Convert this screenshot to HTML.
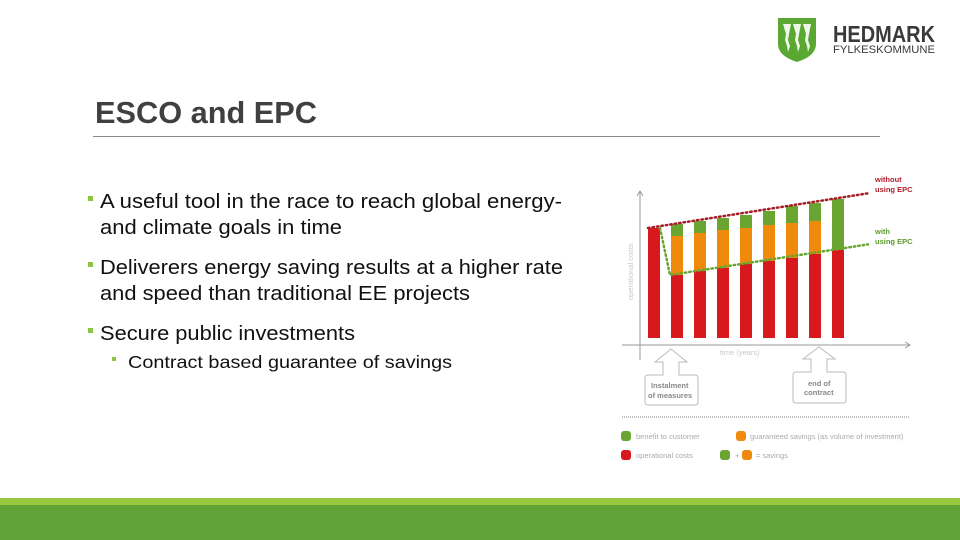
<!DOCTYPE html>
<html><head><meta charset="utf-8"><style>
html,body{margin:0;padding:0;background:#fff;}
svg{display:block;}
</style></head><body>
<svg width="960" height="540" viewBox="0 0 960 540" xmlns="http://www.w3.org/2000/svg" font-family="Liberation Sans, sans-serif">
<g>
  <path d="M778 18 H816 V44 Q816 56 797 62 Q778 56 778 44 Z" fill="#5aa832"/>
  <path d="M783 24 h8 l-2 10 l-1 6 l2 6 l-2 6 l-1 -6 l-2 -6 l1 -6 Z M793 24 h8 l-2 10 l-1 6 l2 6 l-2 6 l-1 -6 l-2 -6 l1 -6 Z M803 24 h8 l-2 10 l-1 6 l2 6 l-2 6 l-1 -6 l-2 -6 l1 -6 Z" fill="#fff" opacity="0.9"/>
  <text x="833" y="42" font-size="23" font-weight="bold" fill="#3a3a3a" textLength="102" lengthAdjust="spacingAndGlyphs">HEDMARK</text>
  <text x="833" y="53" font-size="11" fill="#3a3a3a" textLength="102" lengthAdjust="spacingAndGlyphs">FYLKESKOMMUNE</text>
</g>
<text x="95" y="123" font-size="31" font-weight="bold" fill="#404040" textLength="222" lengthAdjust="spacingAndGlyphs">ESCO and EPC</text>
<line x1="93" y1="136.5" x2="880" y2="136.5" stroke="#8a8a8a" stroke-width="1"/>
<g font-size="20" fill="#111">
  <rect x="88" y="196" width="5" height="5" fill="#8cc63f"/>
  <text x="100" y="208" textLength="462" lengthAdjust="spacingAndGlyphs">A useful tool in the race to reach global energy-</text>
  <text x="100" y="234" textLength="242" lengthAdjust="spacingAndGlyphs">and climate goals in time</text>
  <rect x="88" y="262" width="5" height="5" fill="#8cc63f"/>
  <text x="100" y="274" textLength="463" lengthAdjust="spacingAndGlyphs">Deliverers energy saving results at a higher rate</text>
  <text x="100" y="300" textLength="370" lengthAdjust="spacingAndGlyphs">and speed than traditional EE projects</text>
  <rect x="88" y="328" width="5" height="5" fill="#8cc63f"/>
  <text x="100" y="340" textLength="255" lengthAdjust="spacingAndGlyphs">Secure public investments</text>
  <rect x="112" y="357" width="4" height="4" fill="#8cc63f"/>
  <text x="128" y="368" font-size="17.5" textLength="324" lengthAdjust="spacingAndGlyphs">Contract based guarantee of savings</text>
</g>
<g id="chart"></g>
<rect x="0" y="498" width="960" height="7" fill="#99c83f"/>
<rect x="0" y="505" width="960" height="35" fill="#62a337"/>
</svg>
<script>
const categories = ["y0","y1","y2","y3","y4","y5","y6","y7","y8"];
const operationalCosts = [110,63,67,70,74,77,80,84,88];
const guaranteedSavings = [0,39,38,38,36,36,35,33,0];
const customerBenefit = [0,12,12,12,13,14,17,18,51];

const NS = "http://www.w3.org/2000/svg";
const g = document.getElementById('chart');
const baseY = 338, bx0 = 648, step = 23, bw = 12;
const xPos = i => bx0 + i * step;
const yPos = v => baseY - v;
function mk(tag, attrs, parent) {
  const e = document.createElementNS(NS, tag);
  for (const k in attrs) e.setAttribute(k, attrs[k]);
  (parent || g).appendChild(e);
  return e;
}
// axes
let ax = mk('path', {d: 'M640 192 V360 M622 345 H910 M637 196 L640 191 L643 196 M905 342 L910 345 L905 348', stroke: '#999', 'stroke-width': 1, fill: 'none'});


let yl = mk('text', {x: 0, y: 0, transform: 'translate(633,300) rotate(-90)', 'font-size': 7.5, fill: '#c8c8c8'});
yl.textContent = 'operational costs';


let xl = mk('text', {x: 720, y: 355, 'font-size': 7.5, fill: '#c8c8c8'});
xl.textContent = 'time (years)';



categories.forEach((c, i) => {
  const x = xPos(i);
  const r = operationalCosts[i], o = guaranteedSavings[i], gr = customerBenefit[i];
  let b1 = mk('rect', {x: x, y: yPos(r), width: bw, height: r, fill: '#d7191e'});
  
  
  if (o > 0) {
    let b2 = mk('rect', {x: x, y: yPos(r + o), width: bw, height: o, fill: '#ef8a0c'});
    
    
  }
  if (gr > 0) {
    let b3 = mk('rect', {x: x, y: yPos(r + o + gr), width: bw, height: gr, fill: '#6aa531'});
    
    
  }
});
// trend lines from data
const n = categories.length;
const tot = i => operationalCosts[i] + guaranteedSavings[i] + customerBenefit[i];
const slopeTop = (tot(n - 1) - tot(0)) / (n - 1);
let l1 = mk('line', {x1: xPos(0), y1: yPos(tot(0)), x2: 868, y2: yPos(tot(0) + slopeTop * ((868 - xPos(0)) / step)), stroke: '#a51d26', 'stroke-width': 2.5, 'stroke-dasharray': '1.5 3', 'stroke-linecap': 'round'});


const slopeLow = (operationalCosts[n - 1] - operationalCosts[1]) / (n - 2);
let l2 = mk('polyline', {points: (xPos(0) + bw) + ',' + yPos(operationalCosts[0]) + ' ' + (xPos(1) - 1) + ',' + yPos(operationalCosts[1]) + ' 868,' + yPos(operationalCosts[1] + slopeLow * ((868 - xPos(1)) / step)), stroke: '#6aa531', 'stroke-width': 2.5, fill: 'none', 'stroke-dasharray': '1.5 3', 'stroke-linecap': 'round'});



function txt(x, y, s, col, name, size, bold) {
  const t = mk('text', {x: x, y: y, 'font-size': size || 7.5, fill: col});
  if (bold) t.setAttribute('font-weight', 'bold');
  t.textContent = s;
  
  
  return t;
}
txt(875, 182, 'without', '#b01c2a', 'label-without-1', 7.5, true);
txt(875, 192, 'using EPC', '#b01c2a', 'label-without-2', 7.5, true);
txt(875, 234, 'with', '#5a9a2a', 'label-with-1', 7.5, true);
txt(875, 244, 'using EPC', '#5a9a2a', 'label-with-2', 7.5, true);

// callouts
let c1 = mk('path', {d: 'M648 375 H663 V362 H655 L671 349 L687 362 H679 V375 H695 Q698 375 698 378 V402 Q698 405 695 405 H648 Q645 405 645 402 V378 Q645 375 648 375 Z', fill: '#fff', stroke: '#bbb', 'stroke-width': 1});


txt(651, 388, 'Instalment', '#888', 'callout-installment-1', 7.5, true);
txt(648, 398, 'of measures', '#888', 'callout-installment-2', 7.5, true);
let c2 = mk('path', {d: 'M796 372 H811 V359 H803 L819 347 L835 359 H827 V372 H843 Q846 372 846 375 V400 Q846 403 843 403 H796 Q793 403 793 400 V375 Q793 372 796 372 Z', fill: '#fff', stroke: '#bbb', 'stroke-width': 1});


txt(808, 386, 'end of', '#888', 'callout-end-1', 7.5, true);
txt(804, 395, 'contract', '#888', 'callout-end-2', 7.5, true);

let sep = mk('line', {x1: 622, y1: 417, x2: 910, y2: 417, stroke: '#aaa', 'stroke-width': 1.5, 'stroke-dasharray': '1 1'});



function dot(x, y, col, name) {
  const r = mk('rect', {x: x - 5, y: y - 5, width: 10, height: 10, rx: 3, fill: col});
  
  
}
dot(626, 436, '#6aa531', 'legend-swatch-benefit');
txt(636, 439, 'benefit to customer', '#aaa', 'legend-benefit');
dot(741, 436, '#ef8a0c', 'legend-swatch-savings');
txt(735 + 15, 439, 'guaranteed savings (as volume of investment)', '#aaa', 'legend-savings');
dot(626, 455, '#d7191e', 'legend-swatch-operational');
txt(636, 458, 'operational costs', '#aaa', 'legend-operational');
dot(725, 455, '#6aa531', 'legend-swatch-sum-green');
txt(735, 458, '+', '#aaa', 'legend-plus');
dot(747, 455, '#ef8a0c', 'legend-swatch-sum-orange');
txt(756, 458, '= savings', '#aaa', 'legend-equals-savings');
</script>
</body></html>
